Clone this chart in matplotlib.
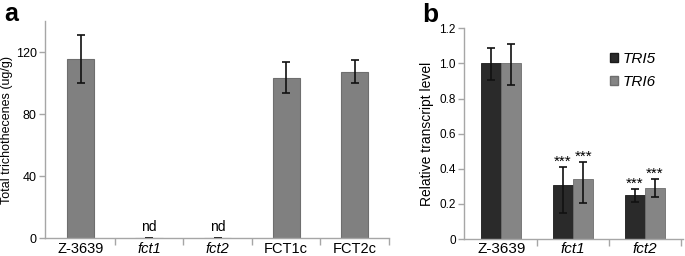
import matplotlib
matplotlib.use("Agg")
import matplotlib.pyplot as plt
import numpy as np
from matplotlib.patches import Patch

plt.rcParams['font.family'] = ['Liberation Sans', 'DejaVu Sans']

# panel a data
strains_a = ["Z-3639", "fct1", "fct2", "FCT1c", "FCT2c"]
italic_a = [False, True, True, False, False]
tri_total = [115.5, 0, 0, 103.5, 107.5]
tri_err = [15.5, 0, 0, 10.0, 7.5]
nd_flags = [False, True, True, False, False]

# panel b data
strains_b = ["Z-3639", "fct1", "fct2"]
italic_b = [False, True, True]
tri5 = [1.0, 0.307, 0.25]
tri5_lo = [0.095, 0.16, 0.038]
tri5_hi = [0.088, 0.103, 0.033]
tri6 = [1.0, 0.34, 0.289]
tri6_lo = [0.121, 0.137, 0.052]
tri6_hi = [0.11, 0.10, 0.051]
stars5 = ["", "***", "***"]
stars6 = ["", "***", "***"]

W, H = 685, 256
fig = plt.figure(figsize=(W / 100, H / 100), dpi=100)

spine_col = "#a6a6a6"

def style_axis(ax, xsize):
    for s in ["top", "right"]:
        ax.spines[s].set_visible(False)
    for s in ["left", "bottom"]:
        ax.spines[s].set_color(spine_col)
        ax.spines[s].set_linewidth(1.0)
    ax.tick_params(axis="y", color=spine_col, length=4, width=1.0, labelsize=9, pad=2)
    ax.tick_params(axis="x", which="major", length=0, labelsize=xsize, pad=2.5)
    ax.tick_params(axis="x", which="minor", color=spine_col, length=5, width=1.0)

# ---- panel a ----
axa = fig.add_axes([45 / W, 1 - 238.3 / H, (389 - 45) / W, (238.3 - 21.3) / H])
xa = np.arange(len(strains_a))
axa.bar(xa, tri_total, width=0.40, color="#808080", edgecolor="#6e6e6e", linewidth=0.8,
        yerr=tri_err, error_kw=dict(ecolor="#111111", elinewidth=1.2, capsize=3, capthick=1.2))
for i, f in enumerate(nd_flags):
    if f:
        axa.text(xa[i], 2.5, "nd", ha="center", va="bottom", fontsize=10)
axa.set_xlim(-0.52, 4.5)
axa.set_ylim(0, 140)
axa.set_yticks([0, 40, 80, 120])
axa.set_xticks(xa)
axa.set_xticklabels(strains_a)
for lab, it in zip(axa.get_xticklabels(), italic_a):
    if it:
        lab.set_style("italic")
axa.set_xticks(np.arange(0.5, 4.6, 1), minor=True)
style_axis(axa, 10.5)
axa.set_ylabel("Total trichothecenes (ug/g)", fontsize=9, labelpad=2)
fig.text(4 / W, 1 - 21 / H, "a", fontsize=18, fontweight="bold", va="baseline", ha="left")

# ---- panel b ----
axb = fig.add_axes([464 / W, 1 - 239 / H, (683 - 464) / W, (239 - 28.3) / H])
xb = np.arange(len(strains_b))
bw = 0.28
ekw = dict(ecolor="#111111", elinewidth=1.2, capsize=3, capthick=1.2)
axb.bar(xb - bw / 2, tri5, width=bw, color="#2a2a2a", edgecolor="#1a1a1a", linewidth=0.6,
        yerr=[tri5_lo, tri5_hi], error_kw=ekw)
axb.bar(xb + bw / 2, tri6, width=bw, color="#858585", edgecolor="#6e6e6e", linewidth=0.6,
        yerr=[tri6_lo, tri6_hi], error_kw=ekw)
for i in range(len(strains_b)):
    if stars5[i]:
        axb.text(xb[i] - bw / 2, tri5[i] + tri5_hi[i] - 0.01, stars5[i], ha="center", va="bottom", fontsize=11)
    if stars6[i]:
        axb.text(xb[i] + bw / 2, tri6[i] + tri6_hi[i] - 0.01, stars6[i], ha="center", va="bottom", fontsize=11)
axb.set_xlim(-0.52, 2.53)
axb.set_ylim(0, 1.2)
axb.set_yticks(np.arange(0, 1.21, 0.2))
axb.set_yticklabels(["0"] + [f"{v:.1f}" for v in np.arange(0.2, 1.21, 0.2)])
axb.set_xticks(xb)
axb.set_xticklabels(strains_b)
for lab, it in zip(axb.get_xticklabels(), italic_b):
    if it:
        lab.set_style("italic")
axb.set_xticks(np.arange(0.5, 2.6, 1), minor=True)
style_axis(axb, 11)
axb.tick_params(axis="y", labelsize=8.5)
axb.set_ylabel("Relative transcript level", fontsize=10, labelpad=4)
leg = axb.legend(handles=[Patch(facecolor="#2a2a2a", edgecolor="#1a1a1a"),
                          Patch(facecolor="#858585", edgecolor="#6e6e6e")],
                 labels=["TRI5", "TRI6"], loc="upper left", bbox_to_anchor=(610 / W, 1 - 52 / H),
                 bbox_transform=fig.transFigure, frameon=False, fontsize=11,
                 handlelength=0.55, handleheight=0.55, handletextpad=0.3, labelspacing=0.6,
                 borderpad=0, borderaxespad=0)
for t in leg.get_texts():
    t.set_style("italic")
fig.text(422 / W, 1 - 22 / H, "b", fontsize=19, fontweight="bold", va="baseline", ha="left")

fig.savefig("out.png", dpi=100)
